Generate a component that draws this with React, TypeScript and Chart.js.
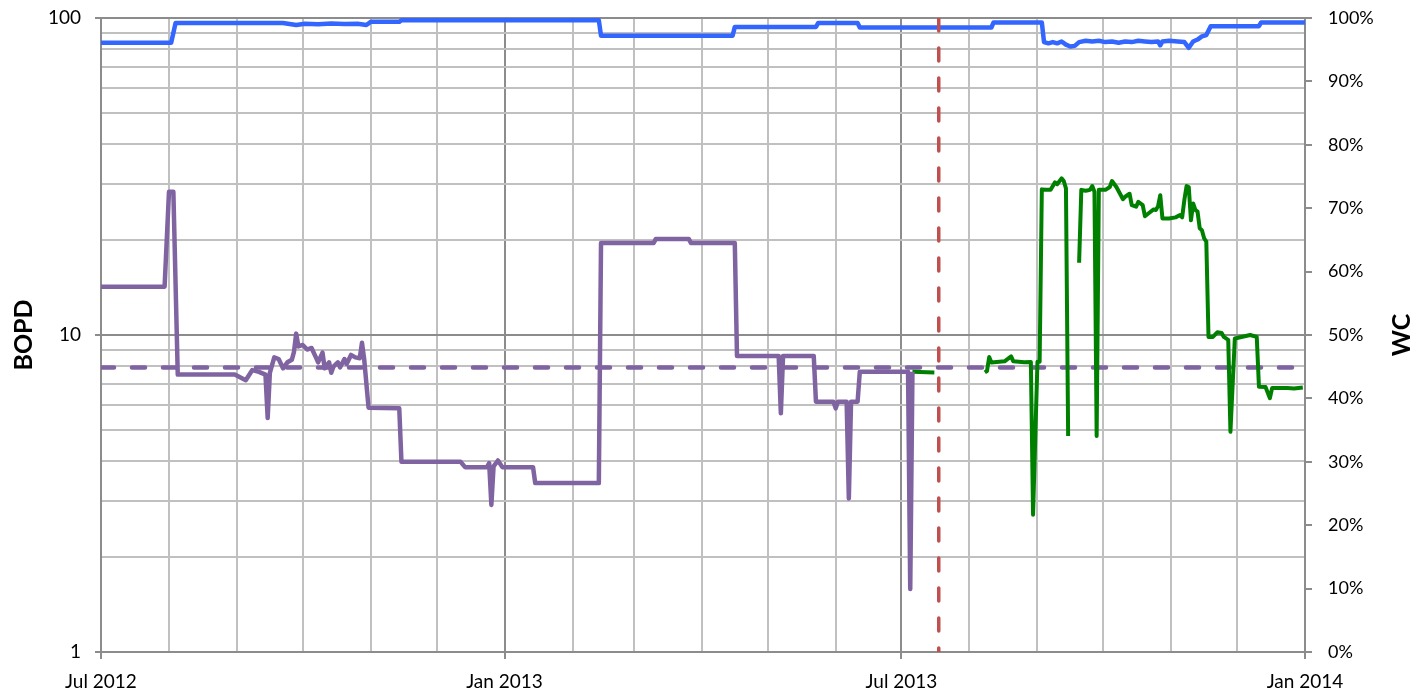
import { useEffect, useRef } from "react";
import { Chart, registerables } from "chart.js";

Chart.register(...registerables);

// ---------- data ----------
const startDate = "2012-07-01";
const endDate = "2014-01-01";

const xTickDates = [
  "2012-07-01", "2012-08-01", "2012-09-01", "2012-10-01", "2012-11-01", "2012-12-01",
  "2013-01-01", "2013-02-01", "2013-03-01", "2013-04-01", "2013-05-01", "2013-06-01",
  "2013-07-01", "2013-08-01", "2013-09-01", "2013-10-01", "2013-11-01", "2013-12-01",
  "2014-01-01",
];
const xTickLabels = [
  "Jul 2012", "", "", "", "", "",
  "Jan 2013", "", "", "", "", "",
  "Jul 2013", "", "", "", "", "",
  "Jan 2014",
];

const yTickValues = [1, 2, 3, 4, 5, 6, 7, 8, 9, 10, 20, 30, 40, 50, 60, 70, 80, 90, 100];
const yTickLabels = ["1", "", "", "", "", "", "", "", "", "10", "", "", "", "", "", "", "", "", "100"];

// BOPD before the event (purple)
const oilBeforeDates = [
  "2012-07-01", "2012-07-30", "2012-08-01", "2012-08-03", "2012-08-05", "2012-08-31",
  "2012-09-05", "2012-09-08", "2012-09-11", "2012-09-14", "2012-09-15", "2012-09-16",
  "2012-09-18", "2012-09-20", "2012-09-22", "2012-09-24", "2012-09-26", "2012-09-27",
  "2012-09-28", "2012-09-29", "2012-10-01", "2012-10-03", "2012-10-05", "2012-10-07",
  "2012-10-08", "2012-10-10", "2012-10-11", "2012-10-13", "2012-10-14", "2012-10-15",
  "2012-10-17", "2012-10-18", "2012-10-20", "2012-10-21", "2012-10-23", "2012-10-25",
  "2012-10-27", "2012-10-28", "2012-10-29", "2012-10-31", "2012-11-14", "2012-11-15",
  "2012-12-12", "2012-12-14", "2012-12-24", "2012-12-25", "2012-12-26", "2012-12-27",
  "2012-12-29", "2012-12-31", "2013-01-14", "2013-01-15", "2013-02-13", "2013-02-14",
  "2013-03-10", "2013-03-11", "2013-03-26", "2013-03-27", "2013-04-16", "2013-04-17",
  "2013-05-06", "2013-05-07", "2013-05-08", "2013-05-22", "2013-05-23", "2013-05-31",
  "2013-06-01", "2013-06-02", "2013-06-06", "2013-06-07", "2013-06-08", "2013-06-11",
  "2013-06-12", "2013-07-04", "2013-07-05", "2013-07-06",
];
const oilBeforeValues = [
  14.2, 14.2, 28.3, 28.3, 7.5, 7.5,
  7.2, 7.75, 7.65, 7.5, 5.47, 7.6,
  8.5, 8.4, 7.85, 8.2, 8.35, 8.85,
  10.1, 9.2, 9.3, 9.0, 9.1, 8.5,
  8.2, 8.8, 7.85, 8.2, 7.6, 7.95,
  8.2, 7.9, 8.4, 8.1, 8.65, 8.5,
  8.45, 9.45, 8.4, 5.9, 5.87, 3.98,
  3.98, 3.83, 3.83, 3.94, 2.91, 3.85,
  4.02, 3.83, 3.83, 3.41, 3.41, 19.5,
  19.5, 20.1, 20.1, 19.5, 19.5, 8.59,
  8.59, 5.66, 8.59, 8.59, 6.16, 6.16,
  5.87, 6.16, 6.16, 3.05, 6.16, 6.16,
  7.66, 7.66, 1.58, 7.66,
];

// BOPD after (green); null = no data
const oilAfterDates = [
  "2013-07-06", "2013-07-16", "2013-07-17", "2013-08-08", "2013-08-09", "2013-08-10",
  "2013-08-11", "2013-08-17", "2013-08-20", "2013-08-21", "2013-08-26", "2013-08-29",
  "2013-08-30", "2013-09-01", "2013-09-02", "2013-09-03", "2013-09-05", "2013-09-07",
  "2013-09-09", "2013-09-10", "2013-09-12", "2013-09-13", "2013-09-14", "2013-09-15",
  "2013-09-16", "2013-09-20", "2013-09-21", "2013-09-23", "2013-09-25", "2013-09-26",
  "2013-09-27", "2013-09-28", "2013-09-29", "2013-10-02", "2013-10-04", "2013-10-05",
  "2013-10-07", "2013-10-10", "2013-10-11", "2013-10-13", "2013-10-14", "2013-10-16",
  "2013-10-17", "2013-10-19", "2013-10-20", "2013-10-22", "2013-10-24", "2013-10-25",
  "2013-10-26", "2013-10-27", "2013-10-28", "2013-10-31", "2013-11-03", "2013-11-05",
  "2013-11-06", "2013-11-07", "2013-11-08", "2013-11-09", "2013-11-10", "2013-11-11",
  "2013-11-12", "2013-11-13", "2013-11-14", "2013-11-15", "2013-11-16", "2013-11-17",
  "2013-11-18", "2013-11-20", "2013-11-22", "2013-11-24", "2013-11-25", "2013-11-27",
  "2013-11-28", "2013-11-30", "2013-12-03", "2013-12-07", "2013-12-10", "2013-12-11",
  "2013-12-14", "2013-12-16", "2013-12-17", "2013-12-24", "2013-12-27", "2013-12-31",
];
const oilAfterValues: (number | null)[] = [
  7.66, 7.62, null, 7.62, 7.7, 8.52,
  8.19, 8.26, 8.56, 8.26, 8.2, 8.22,
  2.71, 8.23, 8.23, 28.8, 28.7, 28.7,
  30.3, 29.9, 31.2, 30.6, 29.0, 4.8,
  null, 16.9, 28.7, 28.5, 28.7, 29.5,
  28.3, 4.8, 28.7, 28.7, 29.3, 30.6,
  29.3, 26.8, 27.3, 27.9, 25.7, 25.4,
  26.3, 25.7, 23.7, 24.3, 24.9, 24.8,
  25.5, 27.6, 23.3, 23.3, 23.5, 23.9,
  23.5, 26.7, 29.5, 29.3, 23.0, 26.0,
  24.8, 24.5, 21.7, 21.4, 20.2, 19.7,
  9.86, 9.86, 10.2, 10.15, 9.86, 9.65,
  4.95, 9.75, 9.86, 10.0, 9.86, 6.87,
  6.85, 6.32, 6.8, 6.8, 6.78, 6.83,
];

// Average BOPD (dashed purple)
const oilAverage = 7.9;

// Event date (red dashed)
const eventDate = "2013-07-18";

// Water cut % (blue, right axis)
const wcDates = [
  "2012-07-01", "2012-08-02", "2012-08-04", "2012-09-22", "2012-09-28", "2012-10-02",
  "2012-10-08", "2012-10-14", "2012-10-20", "2012-10-26", "2012-10-30", "2012-11-01",
  "2012-11-14", "2012-11-15", "2013-02-13", "2013-02-14", "2013-04-15", "2013-04-16",
  "2013-05-23", "2013-05-24", "2013-06-11", "2013-06-12", "2013-08-11", "2013-08-12",
  "2013-09-03", "2013-09-04", "2013-09-06", "2013-09-08", "2013-09-10", "2013-09-12",
  "2013-09-14", "2013-09-16", "2013-09-18", "2013-09-20", "2013-09-23", "2013-09-26",
  "2013-09-29", "2013-10-02", "2013-10-05", "2013-10-08", "2013-10-11", "2013-10-14",
  "2013-10-17", "2013-10-20", "2013-10-23", "2013-10-26", "2013-10-27", "2013-10-28",
  "2013-10-31", "2013-11-04", "2013-11-07", "2013-11-09", "2013-11-11", "2013-11-13",
  "2013-11-15", "2013-11-17", "2013-11-19", "2013-12-11", "2013-12-12", "2014-01-01",
];
const wcValues = [
  96.1, 96.1, 99.2, 99.2, 98.9, 99.1,
  99.0, 99.15, 99.05, 99.1, 98.9, 99.4,
  99.4, 99.65, 99.65, 97.2, 97.2, 98.6,
  98.6, 99.2, 99.2, 98.5, 98.5, 99.3,
  99.3, 96.2, 96.0, 96.2, 96.0, 96.3,
  95.8, 95.5, 95.6, 96.2, 96.4, 96.3,
  96.4, 96.2, 96.3, 96.1, 96.3, 96.2,
  96.4, 96.3, 96.2, 96.3, 95.7, 96.3,
  96.4, 96.3, 96.2, 95.3, 96.3, 96.6,
  97.1, 97.3, 98.7, 98.7, 99.3, 99.3,
];

// ---------- helpers ----------
const toDay = (s: string) => {
  const [y, m, d] = s.split("-").map(Number);
  const [y0, m0, d0] = startDate.split("-").map(Number);
  return (Date.UTC(y, m - 1, d) - Date.UTC(y0, m0 - 1, d0)) / 86400000;
};
const pts = (dates: string[], vals: (number | null)[]) =>
  dates.map((d, i) => ({ x: toDay(d), y: vals[i] }));

const BLUE = "#3366ff";
const PURPLE = "#8064a2";
const GREEN = "#008000";
const RED = "#c0504d";
const GRID_MINOR = "#c0c0c0";
const GRID_MAJOR = "#8c8c8c";
const TITLE_FONT = "bold 25px Lato";

// Right-axis title, read bottom-to-top like the left one
const rightTitlePlugin = {
  id: "rightTitle",
  afterDraw(chart: any) {
    const s = chart.scales.y1;
    if (!s) return;
    const { ctx, chartArea } = chart;
    ctx.save();
    ctx.translate(s.right - 20, (chartArea.top + chartArea.bottom) / 2);
    ctx.rotate(-Math.PI / 2);
    ctx.font = TITLE_FONT;
    ctx.fillStyle = "#000";
    ctx.textAlign = "center";
    ctx.textBaseline = "middle";
    ctx.fillText("WC", 0, 0);
    ctx.restore();
  },
};

const noVPad = (s: any, width: number) => {
  s.width = width;
  s.paddingTop = 0;
  s.paddingBottom = 0;
};

export default function App() {
  const ref = useRef<HTMLCanvasElement>(null);

  useEffect(() => {
    if (!ref.current) return;
    Chart.defaults.font.family = "Lato";
    const xMajor = new Set(xTickDates.filter((_, i) => xTickLabels[i] !== "").map(toDay));
    const xLabelMap = new Map(xTickDates.map((d, i) => [toDay(d), xTickLabels[i]]));
    const yLabelMap = new Map(yTickValues.map((v, i) => [v, yTickLabels[i]]));
    const isYMajor = (v: number) => (yLabelMap.get(v) || "") !== "";
    const ev = toDay(eventDate);
    const endDay = toDay(endDate);

    const chart = new Chart(ref.current, {
      type: "line",
      plugins: [rightTitlePlugin],
      data: {
        datasets: [
          {
            label: "Event",
            data: [{ x: ev, y: 100 }, { x: ev, y: 1 }],
            borderColor: RED,
            borderWidth: 3.5,
            borderDash: [13, 17],
            borderCapStyle: "round",
            yAxisID: "y",
            pointRadius: 0,
          },
          {
            label: "BOPD",
            data: pts(oilBeforeDates, oilBeforeValues),
            borderColor: PURPLE,
            borderWidth: 4.5,
            yAxisID: "y",
            pointRadius: 0,
          },
          {
            label: "BOPD after",
            data: pts(oilAfterDates, oilAfterValues),
            borderColor: GREEN,
            borderWidth: 4,
            spanGaps: false,
            yAxisID: "y",
            pointRadius: 0,
          },
          {
            label: "Average BOPD",
            data: [{ x: 0, y: oilAverage }, { x: endDay, y: oilAverage }],
            borderColor: PURPLE,
            borderWidth: 4.5,
            borderDash: [13, 18],
            borderCapStyle: "round",
            yAxisID: "y",
            pointRadius: 0,
          },
          {
            label: "WC",
            data: pts(wcDates, wcValues),
            borderColor: BLUE,
            borderWidth: 4.5,
            yAxisID: "y1",
            pointRadius: 0,
          },
        ],
      },
      options: {
        responsive: false,
        animation: false,
        events: [],
        layout: { padding: { top: 18, left: 0, right: 0, bottom: 0 } },
        plugins: { legend: { display: false }, tooltip: { enabled: false } },
        elements: { line: { tension: 0, borderJoinStyle: "round" }, point: { radius: 0 } },
        scales: {
          x: {
            type: "linear",
            min: 0,
            max: endDay,
            afterBuildTicks: (s: any) => {
              s.ticks = xTickDates.map((d) => ({ value: toDay(d) }));
            },
            afterFit: (s: any) => {
              s.height = 42;
            },
            ticks: {
              autoSkip: false,
              maxRotation: 0,
              padding: 11,
              color: "#000",
              font: { size: 19 },
              callback: (v: any) => xLabelMap.get(Number(v)) ?? "",
            },
            grid: {
              lineWidth: 2,
              tickLength: 7,
              color: (c: any) => (c.tick && xMajor.has(c.tick.value) ? GRID_MAJOR : GRID_MINOR),
              tickColor: (c: any) => (c.tick && xMajor.has(c.tick.value) ? GRID_MAJOR : "rgba(0,0,0,0)"),
            },
            border: { color: GRID_MAJOR, width: 2 },
          },
          y: {
            type: "logarithmic",
            position: "left",
            min: 1,
            max: 100,
            afterBuildTicks: (s: any) => {
              s.ticks = yTickValues.map((v) => ({ value: v }));
            },
            afterFit: (s: any) => noVPad(s, 101),
            ticks: {
              autoSkip: false,
              padding: 14,
              color: "#000",
              font: { size: 19 },
              callback: (v: any) => yLabelMap.get(Number(v)) ?? "",
            },
            grid: {
              lineWidth: 2,
              tickLength: 6,
              color: (c: any) => (c.tick && isYMajor(c.tick.value) ? GRID_MAJOR : GRID_MINOR),
              tickColor: (c: any) => (c.tick && isYMajor(c.tick.value) ? GRID_MAJOR : "rgba(0,0,0,0)"),
            },
            border: { color: GRID_MAJOR, width: 2 },
            title: {
              display: true,
              text: "BOPD",
              color: "#000",
              font: { size: 25, weight: "bold" },
              padding: { top: 9, bottom: 0 },
            },
          },
          y1: {
            type: "linear",
            position: "right",
            min: 0,
            max: 100,
            afterFit: (s: any) => noVPad(s, 117),
            ticks: {
              stepSize: 10,
              padding: 16,
              color: "#000",
              font: { size: 18 },
              callback: (v: any) => `${v}%`,
            },
            grid: {
              drawOnChartArea: false,
              lineWidth: 2,
              tickLength: 7,
              color: GRID_MAJOR,
            },
            border: { color: GRID_MAJOR, width: 2 },
          },
        },
      },
    } as any);

    return () => chart.destroy();
  }, []);

  return (
    <div style={{ position: "fixed", left: 0, top: 0, width: 1422, height: 694, background: "#fff" }}>
      <canvas ref={ref} width={1422} height={694} style={{ display: "block" }} />
    </div>
  );
}
